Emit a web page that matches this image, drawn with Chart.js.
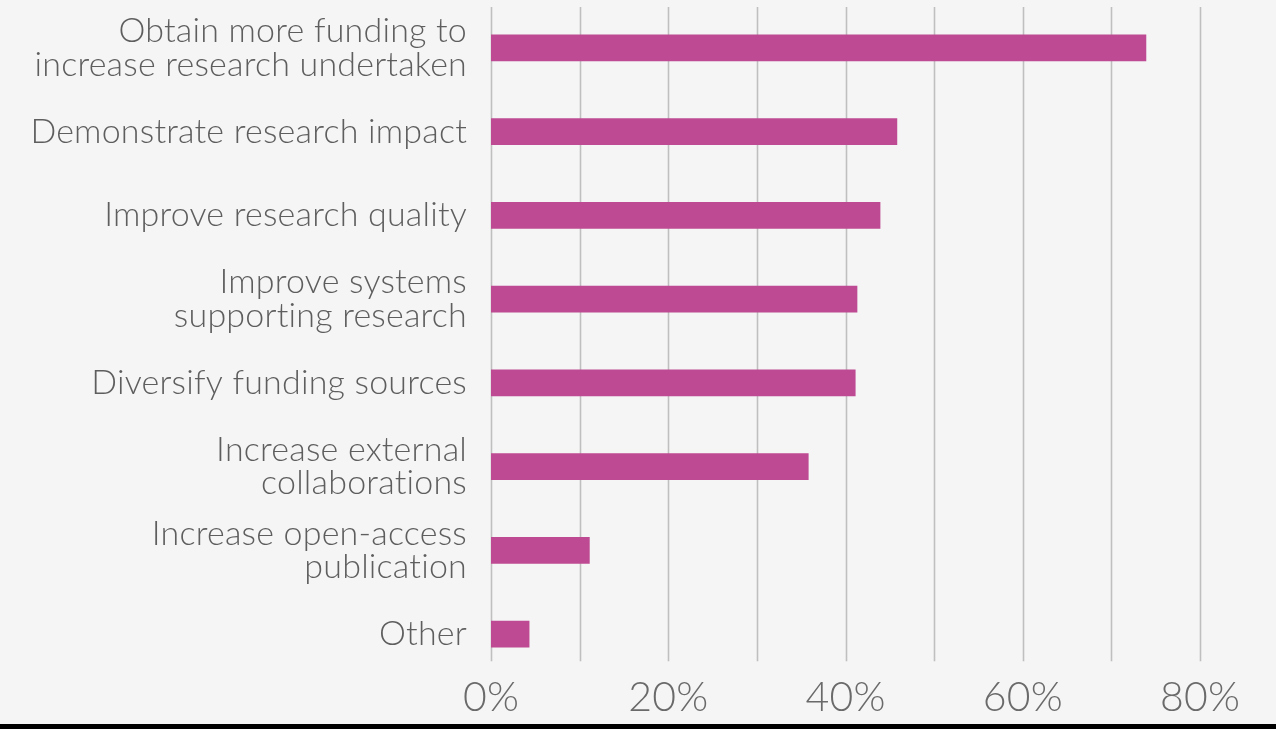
<!DOCTYPE html>
<html>
<head>
<meta charset="utf-8">
<script src="https://cdn.jsdelivr.net/npm/chart.js@4/dist/chart.umd.min.js"></script>
<style>
    html, body { margin: 0; padding: 0; background: #000; }
    #wrap { width: 1276px; height: 724px; background: #f5f5f5; }
</style>
</head>
<body>
<div id="wrap"><canvas id="graph" width="1276" height="724"></canvas></div>
<script>
const categories = [
    ["Obtain more funding to", "increase research undertaken"],
    "Demonstrate research impact",
    "Improve research quality",
    ["Improve systems", "supporting research"],
    "Diversify funding sources",
    ["Increase external", "collaborations"],
    ["Increase open-access", "publication"],
    "Other"
];
const shares = [73.9, 45.8, 43.9, 41.3, 41.1, 35.8, 11.1, 4.3];
const tickLabels = ["0%", "", "20%", "", "40%", "", "60%", "", "80%"];

// no "ti" ligatures in the labels
const noLigatures = {
    id: 'noLigatures',
    beforeDraw(chart) {
        chart.ctx.textRendering = 'optimizeSpeed';
        chart.ctx.letterSpacing = '0.2px';
    }
};

// vertical grid lines, stopping a little below the last bar
const gridLines = {
    id: 'gridLines',
    beforeDatasetsDraw(chart) {
        const x = chart.scales.x, y = chart.scales.y, ctx = chart.ctx;
        const top = chart.chartArea.top + 1;
        const bottom = y.getPixelForValue(categories.length - 1) + 27;
        ctx.save();
        ctx.strokeStyle = '#bfbfbf';
        ctx.lineWidth = 1.6;
        for (let v = 0; v <= 80; v += 10) {
            const px = Math.round(x.getPixelForValue(v)) + 0.5;
            ctx.beginPath();
            ctx.moveTo(px, top);
            ctx.lineTo(px, bottom);
            ctx.stroke();
        }
        ctx.restore();
    }
};

const ctx = document.getElementById('graph');

const myChart = new Chart(ctx, {
    type: 'bar',
    data: {
        labels: categories,
        datasets: [{
            data: shares,
            backgroundColor: '#bd4a92',
            borderWidth: 0,
            barThickness: 26
        }]
    },
    plugins: [noLigatures, gridLines],
    options: {
        indexAxis: 'y',
        responsive: false,
        animation: false,
        layout: { padding: { top: 6, right: 76, left: 0, bottom: 0 } },
        plugins: {
            legend: { display: false },
            tooltip: { enabled: false }
        },
        scales: {
            x: {
                min: 0,
                max: 80,
                grid: { display: false, drawTicks: false },
                border: { display: false },
                afterFit: function(scale) {
                    scale.height = 48;
                    scale.paddingLeft = 0;
                    scale.paddingRight = 0;
                },
                ticks: {
                    stepSize: 10,
                    autoSkip: false,
                    maxRotation: 0,
                    padding: -3,
                    color: '#6a6a6a',
                    font: { family: 'Lato', weight: 300, size: 41 },
                    callback: function(value, index) { return tickLabels[index]; }
                }
            },
            y: {
                grid: { display: false, drawTicks: false },
                border: { display: false },
                afterFit: function(scale) {
                    scale.width = 491;
                    scale.paddingTop = 0;
                    scale.paddingBottom = 0;
                },
                ticks: {
                    padding: 24,
                    color: '#5e5e5e',
                    font: { family: 'Lato', weight: 300, size: 34, lineHeight: 0.99 }
                }
            }
        }
    }
});
</script>
</body>
</html>
